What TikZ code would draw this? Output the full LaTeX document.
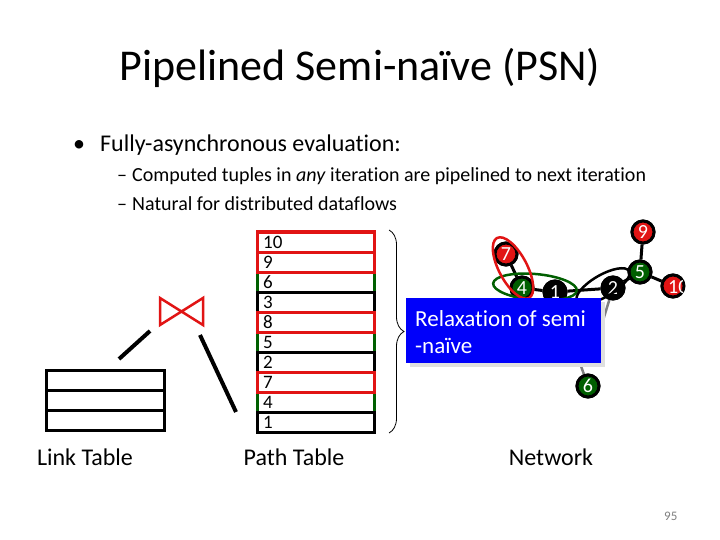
\documentclass[tikz,border=0pt]{standalone}
\usepackage{fontspec}
\setmainfont{Carlito}[Ligatures=NoCommon]
\usetikzlibrary{decorations.pathreplacing,shadows}
\definecolor{pred}{RGB}{225,20,20}
\definecolor{pgreen}{RGB}{0,95,0}
\definecolor{pblue}{RGB}{0,0,250}
\begin{document}
\begin{tikzpicture}[x=1pt,y=-1pt,
  txt/.style={inner sep=0pt, anchor=base west},
  rowbox/.style={draw, line width=3pt, minimum width=117pt, minimum height=20pt, inner sep=0pt},
  rownum/.style={inner sep=0pt, anchor=base west, font=\fontsize{19}{21}\selectfont},
  linkrow/.style={draw, line width=3pt, minimum width=118pt, minimum height=20pt, inner sep=0pt},
  lbl/.style={inner sep=0pt, anchor=base, font=\fontsize{24}{28}\selectfont},
  gnode/.style={circle, draw=black, line width=3pt, minimum size=22pt, inner sep=0pt, text=white, font=\fontsize{20}{21}\selectfont},
  edge/.style={line width=3pt, black},
  grayedge/.style={line width=2.5pt, gray}
  ]
\useasboundingbox (0,0) rectangle (720,540);
\fill[white] (0,0) rectangle (720,540);

% title and bullets
\node[txt, anchor=base, font=\fontsize{44}{52}\selectfont] (title) at (360,81) {Pipelined Semi-naïve (PSN)};
\node[txt, font=\fontsize{24}{28}\selectfont] (b1) at (73,152) {•};
\node[txt, font=\fontsize{24}{28}\selectfont] (t1) at (100,152) {Fully-asynchronous evaluation:};
\node[txt, font=\fontsize{20}{24}\selectfont] (b2) at (117,182) {–};
\node[txt, font=\fontsize{20}{24}\selectfont] (t2) at (132,182) {Computed tuples in \textit{any} iteration are pipelined to next iteration};
\node[txt, font=\fontsize{20}{24}\selectfont] (b3) at (117,211) {–};
\node[txt, font=\fontsize{20}{24}\selectfont] (t3) at (132,211) {Natural for distributed dataflows};

% link table
\node[linkrow] (l1) at (105,380) {};
\node[linkrow] (l2) at (105,400) {};
\node[linkrow] (l3) at (105,420) {};

% join symbol
\coordinate (ja) at (160,298);
\coordinate (jb) at (203,325);
\coordinate (jc) at (160,325);
\coordinate (jd) at (203,298);
\draw[pred, line width=2.5pt, line join=miter] (ja) -- (jb) -- (jd) -- (jc) -- cycle;
\coordinate (la) at (150,331);
\coordinate (lb) at (119,359);
\coordinate (ra) at (200,335);
\coordinate (rb) at (236,412);
\draw[line width=4pt] (la) -- (lb);
\draw[line width=4pt] (ra) -- (rb);

% path table: green rows, then black, then red
\node[rowbox, draw=pgreen] (r3) at (315.5,282) {};
\node[rowbox, draw=pgreen] (r6) at (315.5,342) {};
\node[rowbox, draw=pgreen] (r9) at (315.5,402) {};
\node[rowbox, draw=black] (r4) at (315.5,302) {};
\node[rowbox, draw=black] (r7) at (315.5,362) {};
\node[rowbox, draw=black] (r10) at (315.5,422) {};
\node[rowbox, draw=pred] (r1) at (315.5,242) {};
\node[rowbox, draw=pred] (r2) at (315.5,262) {};
\node[rowbox, draw=pred] (r5) at (315.5,322) {};
\node[rowbox, draw=pred] (r8) at (315.5,382) {};
\foreach \lab [count=\i] in {10,9,6,3,8,5,2,7,4,1} {
  \node[rownum] (n\i) at (263,228.5+20*\i) {\lab};
}
\coordinate (bt) at (389,230);
\coordinate (bb) at (389,433);
\draw[line width=0.8pt, decorate, decoration={brace, amplitude=15pt}] (bt) -- (bb);

% network
\node[gnode, fill=pred] (g9) at (643,232) {};
\node[gnode, fill=pred] (g7) at (506,254) {};
\node[gnode, fill=pgreen] (g5) at (640,272) {};
\node[gnode, fill=pgreen] (g4) at (522,288) {};
\node[gnode, fill=black] (g1) at (555,292) {};
\node[gnode, fill=black] (g2) at (613,288) {};
\node[gnode, fill=pgreen] (g6) at (588,386) {};
\node[gnode, fill=pred] (g10) at (673,286) {};
\coordinate (hid) at (600,330);
\draw[grayedge] (g1) -- (g6);
\draw[grayedge] (g2) -- (hid);
\draw[edge] (g9) -- (g5);
\draw[edge] (g7) -- (g4);
\draw[edge] (g4) -- (g1);
\draw[edge] (g1) -- (g2);
\draw[edge] (g2) -- (g5);
\draw[edge] (g5) -- (g10);
\node[gnode, fill=pred] at (g9) {9};
\node[gnode, fill=pred] at (g7) {7};
\node[gnode, fill=pgreen] at (g5) {5};
\node[gnode, fill=pgreen] at (g4) {4};
\node[gnode, fill=black] at (g1) {1};
\node[gnode, fill=black] at (g2) {2};
\node[gnode, fill=pgreen] at (g6) {6};
\begin{scope}
\clip (640,250) rectangle (682,320);
\node[gnode, fill=pred] at (g10) {};
\node[inner sep=0pt, anchor=west, text=white, font=\fontsize{20}{21}\selectfont] at (668,287) {10};
\end{scope}
\draw[pgreen, line width=2.5pt, rotate around={-5:(535,287)}] (535,287) ellipse [x radius=42, y radius=13];
\draw[pred, line width=2.5pt, rotate around={-62:(513,268)}] (513,268) ellipse [x radius=34, y radius=14];
\draw[black, line width=2.5pt, rotate around={30:(603,286)}] (603,286) ellipse [x radius=30, y radius=11];

% relaxation box
\node[fill=pblue, anchor=north west, minimum width=195pt, minimum height=65pt, inner sep=0pt,
      drop shadow={shadow xshift=4pt, shadow yshift=-4pt, fill=gray!25, opacity=1}] (box) at (406,298) {};
\node[txt, text=white, font=\fontsize{23}{27}\selectfont] (bx1) at (415,326) {Relaxation of semi};
\node[txt, text=white, font=\fontsize{23}{27}\selectfont] (bx2) at (415,353) {-naïve};

% labels
\node[lbl] (ll) at (85,465) {Link Table};
\node[lbl] (pl) at (294,465) {Path Table};
\node[lbl] (nl) at (551,465) {Network};
\node[txt, text=gray, font=\fontsize{13}{15}\selectfont] (pg) at (664,520) {95};
\end{tikzpicture}
\end{document}
